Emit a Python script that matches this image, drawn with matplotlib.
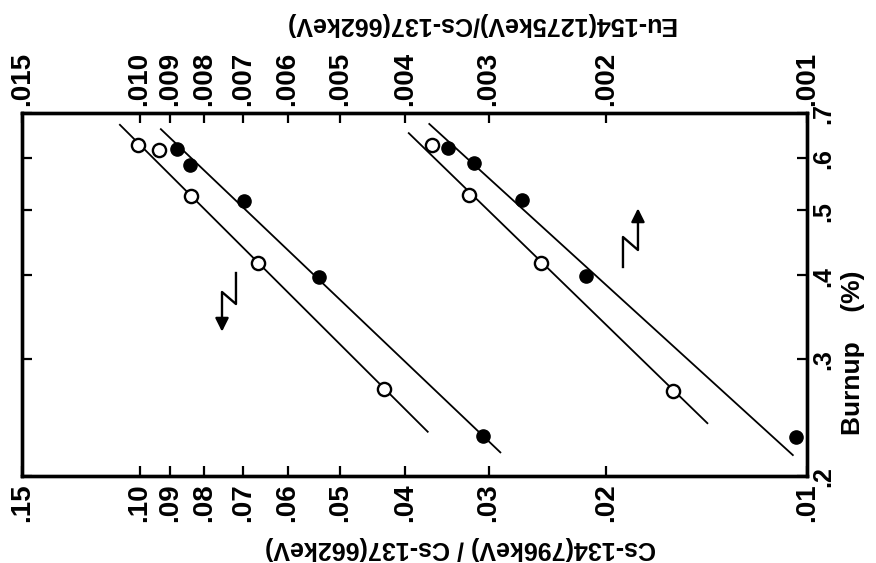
import matplotlib
matplotlib.use("Agg")
import matplotlib.pyplot as plt
from matplotlib.ticker import FixedLocator, FixedFormatter, NullLocator

plt.rcParams['font.family'] = ['Liberation Sans', 'DejaVu Sans']
plt.rcParams['font.weight'] = 'bold'
plt.rcParams['axes.labelweight'] = 'bold'

# burnup (%) of the measured samples
burnup_open = [0.627, 0.616, 0.526, 0.417, 0.270]
burnup_fill = [0.618, 0.585, 0.517, 0.397, 0.230]

# Cs-134/Cs-137 ratios (bottom axis)
cs_open = [0.1005, 0.0935, 0.0837, 0.0665, 0.0430]
cs_fill = [0.0879, 0.0840, 0.0697, 0.0538, 0.0306]

# Eu-154/Cs-137 ratios (top axis)
eu_burnup_open = [0.627, 0.527, 0.417, 0.268]
eu_open = [0.00365, 0.00321, 0.00250, 0.00159]
eu_burnup_fill = [0.620, 0.589, 0.518, 0.399, 0.229]
eu_fill = [0.00345, 0.00315, 0.00267, 0.00214, 0.00104]

# fitted lines (end points)
cs_open_fit_x, cs_open_fit_y = [0.1070, 0.0370], [0.672, 0.233]
cs_fill_fit_x, cs_fill_fit_y = [0.0929, 0.0288], [0.662, 0.217]
eu_open_fit_x, eu_open_fit_y = [0.00395, 0.00141], [0.653, 0.240]
eu_fill_fit_x, eu_fill_fit_y = [0.00368, 0.00105], [0.674, 0.215]

cs_ticks = [0.15, 0.10, 0.09, 0.08, 0.07, 0.06, 0.05, 0.04, 0.03, 0.02, 0.01]
cs_labels = ['.15', '.10', '.09', '.08', '.07', '.06', '.05', '.04', '.03', '.02', '.01']
eu_ticks = [0.015, 0.010, 0.009, 0.008, 0.007, 0.006, 0.005, 0.004, 0.003, 0.002, 0.001]
eu_labels = ['.015', '.010', '.009', '.008', '.007', '.006', '.005', '.004', '.003', '.002', '.001']
bu_ticks = [0.2, 0.3, 0.4, 0.5, 0.6, 0.7]
bu_labels = ['.2', '.3', '.4', '.5', '.6', '.7']

fig = plt.figure(figsize=(8.76, 5.63), dpi=100)
ax = fig.add_axes([0.0251, 0.1545, 0.8961, 0.6448])

ax.set_xscale('log')
ax.set_yscale('log')
ax.set_xlim(0.15, 0.01)
ax.set_ylim(0.2, 0.7)

ax2 = ax.twiny()
ax2.set_xscale('log')
ax2.set_xlim(0.015, 0.001)

lw = 1.3
ms = 9.5
ax.plot(cs_open_fit_x, cs_open_fit_y, color='black', lw=lw)
ax.plot(cs_fill_fit_x, cs_fill_fit_y, color='black', lw=lw)
ax2.plot(eu_open_fit_x, eu_open_fit_y, color='black', lw=lw)
ax2.plot(eu_fill_fit_x, eu_fill_fit_y, color='black', lw=lw)

ax.plot(cs_open, burnup_open, 'o', ms=ms, mfc='white', mec='black', mew=1.7, zorder=3)
ax.plot(cs_fill, burnup_fill, 'o', ms=ms, mfc='black', mec='black', zorder=3)
ax2.plot(eu_open, eu_burnup_open, 'o', ms=ms, mfc='white', mec='black', mew=1.7, zorder=3)
ax2.plot(eu_fill, eu_burnup_fill, 'o', ms=ms, mfc='black', mec='black', zorder=3)

# ticks
ax.xaxis.set_major_locator(FixedLocator(cs_ticks))
ax.xaxis.set_major_formatter(FixedFormatter(cs_labels))
ax.xaxis.set_minor_locator(NullLocator())
ax2.xaxis.set_major_locator(FixedLocator(eu_ticks))
ax2.xaxis.set_major_formatter(FixedFormatter(eu_labels))
ax2.xaxis.set_minor_locator(NullLocator())
ax.yaxis.set_major_locator(FixedLocator(bu_ticks))
ax.yaxis.set_major_formatter(FixedFormatter(bu_labels))
ax.yaxis.set_minor_locator(NullLocator())

fs = 20
ax.tick_params(axis='x', direction='in', length=7, width=1.6, labelsize=fs,
               labelrotation=90, pad=5, top=False)
ax2.tick_params(axis='x', direction='in', length=7, width=1.6, labelsize=fs,
                labelrotation=90, pad=5)
ax.tick_params(axis='y', direction='in', length=7, width=1.6, labelsize=18,
               labelrotation=90, left=True, right=True, labelleft=False,
               labelright=True, pad=3)

for a in (ax, ax2):
    for s in a.spines.values():
        s.set_linewidth(2.4)

ax.set_xlabel('Cs-134(796keV) / Cs-137(662keV)', fontsize=18, rotation=180)
ax.xaxis.set_label_coords(0.558, -0.165)
ax2.set_xlabel('Eu-154(1275keV)/Cs-137(662keV)', fontsize=18, rotation=180)
ax2.xaxis.set_label_coords(0.583, 1.225)
ax.yaxis.set_label_position('right')
ax.set_ylabel('Burnup    (%)', fontsize=19, rotation=90)
ax.yaxis.set_label_coords(1.043, 0.34)

# direction arrows (which axis the group belongs to)
ax.plot([0.2726, 0.2726, 0.2548, 0.2548], [0.5592, 0.4738, 0.5069, 0.43],
        color='black', lw=1.7, transform=ax.transAxes)
ax.annotate('', xy=(0.2548, 0.39), xytext=(0.2548, 0.44), xycoords='axes fraction',
            arrowprops=dict(arrowstyle='-|>', color='black', lw=1.7,
                            mutation_scale=20))
ax.plot([0.7656, 0.7656, 0.7847, 0.7847], [0.5758, 0.6584, 0.6226, 0.70],
        color='black', lw=1.7, transform=ax.transAxes)
ax.annotate('', xy=(0.7847, 0.745), xytext=(0.7847, 0.69), xycoords='axes fraction',
            arrowprops=dict(arrowstyle='-|>', color='black', lw=1.7,
                            mutation_scale=20))

fig.savefig('out.png', dpi=100)
